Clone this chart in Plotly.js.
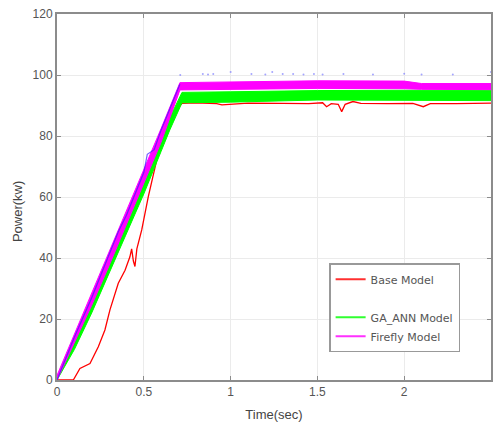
<!DOCTYPE html>
<html>
<head>
<meta charset="utf-8">
<script src="https://cdn.plot.ly/plotly-3.0.1.min.js"></script>
<style>html,body{margin:0;padding:0;background:#fff;}#chart{width:498px;height:425px;}</style>
</head>
<body>
<div id="chart"></div>
<script>
// ---- data ----
const seriesNames = ["Base Model", " ", "GA_ANN Model", "Firefly Model"];

// Base model (red)
const baseT = [0, 0.094, 0.132, 0.171, 0.19, 0.238, 0.276, 0.305, 0.353, 0.392, 0.42, 0.43, 0.44, 0.449, 0.46, 0.488, 0.526, 0.57, 0.603, 0.65, 0.72, 0.8, 0.92, 0.95, 1.1, 1.3, 1.45, 1.53, 1.553, 1.58, 1.62, 1.64, 1.66, 1.705, 1.75, 1.9, 2.05, 2.11, 2.15, 2.3, 2.45, 2.5];
const baseP = [0, 0, 3.8, 4.9, 5.4, 10.9, 16.4, 23, 31.7, 36, 40.4, 43, 39, 37.2, 43, 49.2, 60.1, 71, 82, 86, 90.7, 90.9, 90.6, 90.2, 90.8, 90.7, 90.6, 90.9, 89.6, 90.6, 90.4, 88, 90.4, 91.3, 90.7, 90.6, 90.7, 89.6, 90.6, 90.6, 90.7, 90.8];

// GA_ANN model (green band)
const gaT  = [0, 0.1, 0.2, 0.3, 0.4, 0.5, 0.6, 0.65, 0.72, 1.0, 1.5, 2.0, 2.5];
const gaLo = [0, 10, 22, 35, 47.5, 61, 75, 82, 90.9, 91.1, 91.8, 91.8, 91.6];
const gaHi = [1, 13, 25.5, 39, 52, 66, 80, 86, 94.3, 94.5, 94.9, 95.0, 95.0];

// Firefly model (magenta band)
const ffT  = [0, 0.1, 0.2, 0.3, 0.4, 0.5, 0.6, 0.708, 1.0, 1.5, 2.0, 2.1, 2.5];
const ffLo = [0, 12, 24.5, 37.5, 51, 64.5, 78, 95.1, 95.3, 95.6, 95.5, 95.3, 95.2];
const ffHi = [1.5, 15, 28, 41.5, 55, 68.5, 82.5, 97.5, 97.8, 98.1, 98.0, 97.2, 97.2];

// unnamed series (blue)
const blueT = [0, 0.1, 0.2, 0.3, 0.353, 0.4, 0.5, 0.52, 0.536, 0.56, 0.6, 0.708];
const blueP = [0, 14, 27, 41, 48.6, 54, 68, 74, 74.5, 75.5, 82, 97];
const blueDotT = [0.71, 0.84, 0.87, 0.9, 1.0, 1.12, 1.2, 1.24, 1.3, 1.36, 1.42, 1.48, 1.53, 1.65, 1.82, 2.0, 2.1, 2.28, 2.5];
const blueDotP = [100, 100.3, 100.2, 100.3, 101, 100.3, 100.2, 101, 100.3, 100.3, 100.2, 100.3, 100.2, 100.3, 100.2, 100.4, 100.2, 100.2, 101];

const xTicks = [0, 0.5, 1, 1.5, 2, 2.5];
const xTickText = ["0", "0.5", "1", "1.5", "2", "2.5"];
const yTicks = [0, 20, 40, 60, 80, 100, 120];

// ---- traces ----
const RED = "#ff0000", GREEN = "#00ff00", MAG = "#ff00ff", BLUE = "#3a1aff";
const traces = [
  {x: baseT, y: baseP, mode: "lines", line: {color: RED, width: 1.3}, showlegend: false, hoverinfo: "skip"},
  {x: gaT, y: gaLo, mode: "lines", line: {color: GREEN, width: 1}, showlegend: false, hoverinfo: "skip"},
  {x: gaT, y: gaHi, mode: "lines", fill: "tonexty", fillcolor: GREEN, line: {color: GREEN, width: 1}, showlegend: false, hoverinfo: "skip"},
  {x: ffT, y: ffLo, mode: "lines", line: {color: MAG, width: 1}, showlegend: false, hoverinfo: "skip"},
  {x: ffT, y: ffHi, mode: "lines", fill: "tonexty", fillcolor: MAG, line: {color: MAG, width: 1}, showlegend: false, hoverinfo: "skip"},
  {x: blueT, y: blueP, mode: "lines", line: {color: BLUE, width: 1.2}, opacity: 0.7, showlegend: false, hoverinfo: "skip"},
  {x: blueDotT, y: blueDotP, mode: "markers", marker: {color: "#8080ff", size: 2}, opacity: 0.7, showlegend: false, hoverinfo: "skip"},
  // legend entries
  {x: [null], y: [null], mode: "lines", name: seriesNames[0], line: {color: "#ff3030", width: 2}},
  {x: [null], y: [null], mode: "lines", name: seriesNames[1], line: {color: "rgba(0,0,0,0)", width: 2}},
  {x: [null], y: [null], mode: "lines", name: seriesNames[2], line: {color: "#30ff30", width: 2}},
  {x: [null], y: [null], mode: "lines", name: seriesNames[3], line: {color: "#ff30ff", width: 2}}
];

const axisCommon = {
  showline: true, linecolor: "#8c8c8c", linewidth: 2, mirror: "ticks",
  ticks: "inside", ticklen: 4, tickcolor: "#8c8c8c", tickwidth: 1,
  showgrid: true, gridcolor: "#ebebeb", gridwidth: 1, zeroline: false,
  tickfont: {family: "Liberation Sans, Arial, sans-serif", size: 12, color: "#555"}
};

const layout = {
  width: 498, height: 425,
  margin: {l: 57, r: 7, t: 14, b: 45},
  paper_bgcolor: "#fff", plot_bgcolor: "#fff",
  font: {family: "Liberation Sans, Arial, sans-serif", color: "#444"},
  xaxis: Object.assign({}, axisCommon, {
    range: [0, 2.5], tickvals: xTicks, ticktext: xTickText,
    title: {text: "Time(sec)", font: {size: 13, color: "#444"}, standoff: 11}
  }),
  yaxis: Object.assign({}, axisCommon, {
    range: [0, 120], tickvals: yTicks
  }),
  annotations: [{
    text: "Power(kw)", xref: "paper", yref: "paper", x: -0.092, y: 0.459,
    textangle: -90, showarrow: false, font: {size: 13, color: "#444"},
    xanchor: "center", yanchor: "middle"
  }],
  legend: {
    x: 0.627, y: 0.319, xanchor: "left", yanchor: "top",
    bgcolor: "#fff", bordercolor: "#999", borderwidth: 1.5,
    font: {family: "DejaVu Sans, sans-serif", size: 11, color: "#555"}, traceorder: "normal"
  },
  showlegend: true
};

Plotly.newPlot("chart", traces, layout, {displayModeBar: false, staticPlot: true});
</script>
</body>
</html>
